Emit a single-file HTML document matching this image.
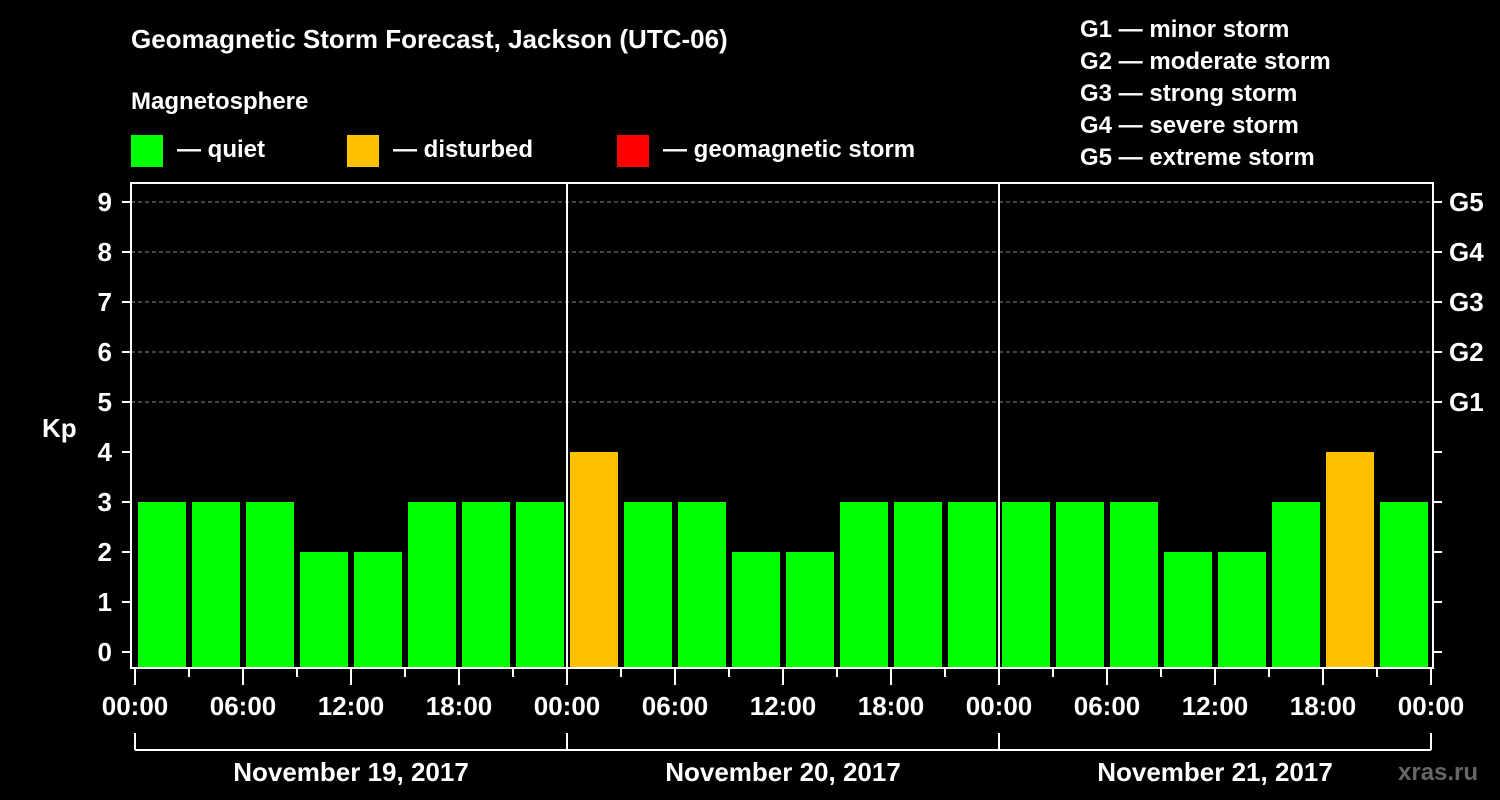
<!DOCTYPE html>
<html><head><meta charset="utf-8"><style>
html,body{margin:0;padding:0;background:#000;width:1500px;height:800px;overflow:hidden}
svg{display:block;font-family:"Liberation Sans",sans-serif;font-weight:bold}
</style></head><body>
<svg id="chart" width="1500" height="800">
<text x="131" y="48" fill="#fff" font-size="26">Geomagnetic Storm Forecast, Jackson (UTC-06)</text>
<text x="131" y="109" fill="#fff" font-size="24">Magnetosphere</text>
<g><rect x="131" y="135" width="32" height="32" fill="#00ff00"/><text x="177" y="157" fill="#fff" font-size="24">— quiet</text></g>
<g><rect x="347" y="135" width="32" height="32" fill="#ffc000"/><text x="393" y="157" fill="#fff" font-size="24">— disturbed</text></g>
<g><rect x="617" y="135" width="32" height="32" fill="#ff0000"/><text x="663" y="157" fill="#fff" font-size="24">— geomagnetic storm</text></g>
<g fill="#fff" font-size="24">
<text x="1080" y="37">G1 — minor storm</text><text x="1080" y="69">G2 — moderate storm</text><text x="1080" y="101">G3 — strong storm</text><text x="1080" y="133">G4 — severe storm</text><text x="1080" y="165">G5 — extreme storm</text></g>
<text x="42" y="437" fill="#fff" font-size="26">Kp</text>
<text x="1398" y="780" fill="#666" font-size="24">xras.ru</text>
<g id="plot"></g>
</svg>
<script>
const kpValues=[3,3,3,2,2,3,3,3, 4,3,3,2,2,3,3,3, 3,3,3,2,2,3,4,3];
const dayLabels=["November 19, 2017","November 20, 2017","November 21, 2017"];
const hourLabels=["00:00","06:00","12:00","18:00"];
const gLabels=["G1","G2","G3","G4","G5"];
const yTicks=[0,1,2,3,4,5,6,7,8,9];
const NS="http://www.w3.org/2000/svg";
const g=document.getElementById('plot');
const L=131,R=1433,T=183,B=668,X0=135,DAY=432;
const y=v=>652-v*50;
const x=h=>X0+h*DAY/24;
function mk(t,a,p){const e=document.createElementNS(NS,t);for(const k in a)e.setAttribute(k,a[k]);(p||g).appendChild(e);return e;}
// grid
yTicks.filter(v=>v>=5).forEach(v=>{const l=mk('line',{x1:L,x2:R,y1:y(v),y2:y(v),stroke:'#888','stroke-dasharray':'4,3','stroke-width':1});

});
// bars
kpValues.forEach((v,i)=>{const c=v>=5?'#ff0000':v>=4?'#ffc000':'#00ff00';
const r=mk('rect',{x:x(i*3)+3,y:y(v),width:48,height:B-y(v),fill:c});

});
// frame
const f=mk('rect',{x:L,y:T,width:R-L,height:B-T,fill:'none',stroke:'#fff','stroke-width':2});


[1,2].forEach(d=>{const l=mk('line',{x1:x(d*24),x2:x(d*24),y1:T,y2:B,stroke:'#fff','stroke-width':2});

});
// y ticks
yTicks.forEach(v=>{mk('line',{x1:122,x2:L,y1:y(v),y2:y(v),stroke:'#fff','stroke-width':2});
mk('line',{x1:R,x2:1442,y1:y(v),y2:y(v),stroke:'#fff','stroke-width':2});
const t=mk('text',{x:112,y:y(v)+9,fill:'#fff','font-size':26,'text-anchor':'end'});t.textContent=v;

});
gLabels.forEach((s,i)=>{const t=mk('text',{x:1449,y:y(i+5)+9,fill:'#fff','font-size':26});t.textContent=s;

});
// x ticks
for(let h=0;h<=72;h+=3){const major=h%6===0;mk('line',{x1:x(h),x2:x(h),y1:B,y2:major?685:677,stroke:'#fff','stroke-width':2});
if(major){const t=mk('text',{x:x(h),y:715,fill:'#fff','font-size':26,'text-anchor':'middle'});t.textContent=hourLabels[(h%24)/6];

}}
// day bracket
mk('line',{x1:x(0),x2:x(72),y1:750,y2:750,stroke:'#fff','stroke-width':2});
for(let d=0;d<=3;d++)mk('line',{x1:x(d*24),x2:x(d*24),y1:733,y2:750,stroke:'#fff','stroke-width':2});
dayLabels.forEach((s,d)=>{const t=mk('text',{x:x(d*24+12),y:781,fill:'#fff','font-size':26,'text-anchor':'middle'});t.textContent=s;

});
</script>
</body></html>
